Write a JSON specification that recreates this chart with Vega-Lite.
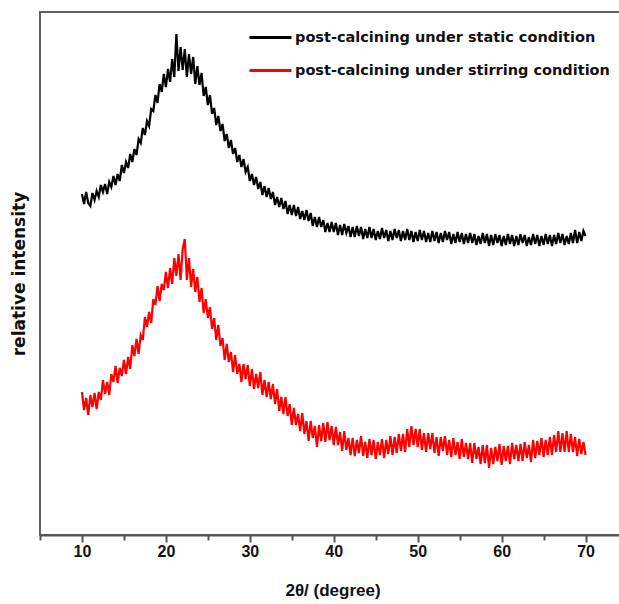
{
"$schema": "https://vega.github.io/schema/vega-lite/v6.json",
"width": 585, "height": 523,
"autosize": {"type": "none"},
"padding": {"left": 40, "top": 12, "right": 0, "bottom": 69},
"background": "white",
"config": {"view": {"stroke": "#606060", "strokeWidth": 2}},
"data": {"values": [
{"x":10,"a":341,"b":143},{"x":10.25,"a":331,"b":125},{"x":10.5,"a":343,"b":137},{"x":10.75,"a":332,"b":120},
{"x":11,"a":329,"b":140},{"x":11.25,"a":342,"b":128},{"x":11.5,"a":335,"b":142},{"x":11.75,"a":344,"b":126},
{"x":12,"a":338,"b":143},{"x":12.25,"a":350,"b":135},{"x":12.5,"a":343,"b":155},{"x":12.75,"a":351,"b":141},
{"x":13,"a":341,"b":153},{"x":13.25,"a":353,"b":140},{"x":13.5,"a":348,"b":161},{"x":13.75,"a":359,"b":153},
{"x":14,"a":350,"b":169},{"x":14.25,"a":361,"b":152},{"x":14.5,"a":354,"b":167},{"x":14.75,"a":370,"b":159},
{"x":15,"a":362,"b":175},{"x":15.25,"a":373,"b":161},{"x":15.5,"a":367,"b":178},{"x":15.75,"a":381,"b":166},
{"x":16,"a":373,"b":190},{"x":16.25,"a":386,"b":179},{"x":16.5,"a":380,"b":196},{"x":16.75,"a":396,"b":181},
{"x":17,"a":392,"b":200},{"x":17.25,"a":407,"b":195},{"x":17.5,"a":400,"b":218},{"x":17.75,"a":414,"b":208},
{"x":18,"a":409,"b":223},{"x":18.25,"a":426,"b":212},{"x":18.5,"a":424,"b":236},{"x":18.75,"a":440,"b":230},
{"x":19,"a":432,"b":249},{"x":19.25,"a":451,"b":234},{"x":19.5,"a":443,"b":251},{"x":19.75,"a":461,"b":245},
{"x":20,"a":448,"b":263},{"x":20.25,"a":466,"b":247},{"x":20.5,"a":453,"b":267},{"x":20.75,"a":476,"b":251},
{"x":21,"a":458,"b":277},{"x":21.25,"a":501,"b":259},{"x":21.5,"a":464,"b":281},{"x":21.75,"a":488,"b":255},
{"x":22,"a":465,"b":286},{"x":22.25,"a":486,"b":296},{"x":22.5,"a":458,"b":255},{"x":22.75,"a":481,"b":277},
{"x":23,"a":461,"b":248},{"x":23.25,"a":478,"b":266},{"x":23.5,"a":451,"b":243},{"x":23.75,"a":469,"b":258},
{"x":24,"a":450,"b":233},{"x":24.25,"a":462,"b":247},{"x":24.5,"a":439,"b":222},{"x":24.75,"a":448,"b":236},
{"x":25,"a":430,"b":217},{"x":25.25,"a":440,"b":228},{"x":25.5,"a":421,"b":206},{"x":25.75,"a":427,"b":217},
{"x":26,"a":410,"b":195},{"x":26.25,"a":419,"b":210},{"x":26.5,"a":404,"b":189},{"x":26.75,"a":411,"b":197},
{"x":27,"a":394,"b":175},{"x":27.25,"a":401,"b":191},{"x":27.5,"a":387,"b":173},{"x":27.75,"a":395,"b":183},
{"x":28,"a":381,"b":163},{"x":28.25,"a":387,"b":180},{"x":28.5,"a":373,"b":161},{"x":28.75,"a":380,"b":171},
{"x":29,"a":368,"b":153},{"x":29.25,"a":376,"b":171},{"x":29.5,"a":363,"b":156},{"x":29.75,"a":368,"b":170},
{"x":30,"a":354,"b":149},{"x":30.25,"a":361,"b":166},{"x":30.5,"a":350,"b":146},{"x":30.75,"a":358,"b":161},
{"x":31,"a":346,"b":147},{"x":31.25,"a":353,"b":163},{"x":31.5,"a":340,"b":140},{"x":31.75,"a":349,"b":155},
{"x":32,"a":338,"b":138},{"x":32.25,"a":347,"b":153},{"x":32.5,"a":336,"b":136},{"x":32.75,"a":343,"b":151},
{"x":33,"a":330,"b":131},{"x":33.25,"a":338,"b":146},{"x":33.5,"a":328,"b":124},{"x":33.75,"a":337,"b":138},
{"x":34,"a":326,"b":121},{"x":34.25,"a":334,"b":138},{"x":34.5,"a":321,"b":119},{"x":34.75,"a":330,"b":131},
{"x":35,"a":320,"b":110},{"x":35.25,"a":330,"b":127},{"x":35.5,"a":319,"b":110},{"x":35.75,"a":328,"b":121},
{"x":36,"a":316,"b":104},{"x":36.25,"a":324,"b":122},{"x":36.5,"a":315,"b":101},{"x":36.75,"a":325,"b":114},
{"x":37,"a":314,"b":94},{"x":37.25,"a":322,"b":114},{"x":37.5,"a":309,"b":97},{"x":37.75,"a":318,"b":109},
{"x":38,"a":308,"b":88},{"x":38.25,"a":318,"b":110},{"x":38.5,"a":308,"b":94},{"x":38.75,"a":315,"b":112},
{"x":39,"a":303,"b":93},{"x":39.25,"a":312,"b":113},{"x":39.5,"a":303,"b":95},{"x":39.75,"a":313,"b":109},
{"x":40,"a":303,"b":90},{"x":40.25,"a":312,"b":108},{"x":40.5,"a":300,"b":90},{"x":40.75,"a":310,"b":103},
{"x":41,"a":300,"b":84},{"x":41.25,"a":311,"b":104},{"x":41.5,"a":302,"b":85},{"x":41.75,"a":309,"b":97},
{"x":42,"a":298,"b":80},{"x":42.25,"a":308,"b":97},{"x":42.5,"a":298,"b":79},{"x":42.75,"a":309,"b":95},
{"x":43,"a":299,"b":82},{"x":43.25,"a":308,"b":99},{"x":43.5,"a":296,"b":79},{"x":43.75,"a":306,"b":93},
{"x":44,"a":297,"b":77},{"x":44.25,"a":308,"b":96},{"x":44.5,"a":297,"b":80},{"x":44.75,"a":306,"b":95},
{"x":45,"a":295,"b":76},{"x":45.25,"a":304,"b":93},{"x":45.5,"a":296,"b":80},{"x":45.75,"a":307,"b":96},
{"x":46,"a":297,"b":77},{"x":46.25,"a":305,"b":95},{"x":46.5,"a":294,"b":81},{"x":46.75,"a":304,"b":99},
{"x":47,"a":295,"b":80},{"x":47.25,"a":306,"b":98},{"x":47.5,"a":297,"b":82},{"x":47.75,"a":305,"b":101},
{"x":48,"a":294,"b":84},{"x":48.25,"a":304,"b":101},{"x":48.5,"a":295,"b":83},{"x":48.75,"a":306,"b":106},
{"x":49,"a":295,"b":88},{"x":49.25,"a":304,"b":109},{"x":49.5,"a":293,"b":90},{"x":49.75,"a":303,"b":106},
{"x":50,"a":294,"b":88},{"x":50.25,"a":305,"b":106},{"x":50.5,"a":295,"b":85},{"x":50.75,"a":304,"b":102},
{"x":51,"a":293,"b":83},{"x":51.25,"a":302,"b":102},{"x":51.5,"a":293,"b":86},{"x":51.75,"a":304,"b":102},
{"x":52,"a":294,"b":82},{"x":52.25,"a":303,"b":98},{"x":52.5,"a":292,"b":79},{"x":52.75,"a":302,"b":98},
{"x":53,"a":293,"b":84},{"x":53.25,"a":304,"b":99},{"x":53.5,"a":295,"b":80},{"x":53.75,"a":303,"b":95},
{"x":54,"a":291,"b":78},{"x":54.25,"a":301,"b":97},{"x":54.5,"a":292,"b":80},{"x":54.75,"a":303,"b":93},
{"x":55,"a":293,"b":76},{"x":55.25,"a":302,"b":96},{"x":55.5,"a":291,"b":78},{"x":55.75,"a":301,"b":92},
{"x":56,"a":292,"b":76},{"x":56.25,"a":302,"b":92},{"x":56.5,"a":292,"b":72},{"x":56.75,"a":301,"b":92},
{"x":57,"a":290,"b":76},{"x":57.25,"a":299,"b":88},{"x":57.5,"a":291,"b":71},{"x":57.75,"a":302,"b":90},
{"x":58,"a":292,"b":72},{"x":58.25,"a":301,"b":90},{"x":58.5,"a":289,"b":67},{"x":58.75,"a":300,"b":87},
{"x":59,"a":290,"b":71},{"x":59.25,"a":301,"b":88},{"x":59.5,"a":292,"b":74},{"x":59.75,"a":300,"b":91},
{"x":60,"a":289,"b":70},{"x":60.25,"a":299,"b":89},{"x":60.5,"a":290,"b":74},{"x":60.75,"a":301,"b":89},
{"x":61,"a":291,"b":71},{"x":61.25,"a":300,"b":92},{"x":61.5,"a":289,"b":76},{"x":61.75,"a":299,"b":90},
{"x":62,"a":290,"b":74},{"x":62.25,"a":301,"b":91},{"x":62.5,"a":292,"b":74},{"x":62.75,"a":300,"b":93},
{"x":63,"a":289,"b":77},{"x":63.25,"a":298,"b":90},{"x":63.5,"a":290,"b":73},{"x":63.75,"a":301,"b":95},
{"x":64,"a":291,"b":77},{"x":64.25,"a":300,"b":94},{"x":64.5,"a":289,"b":80},{"x":64.75,"a":299,"b":97},
{"x":65,"a":290,"b":78},{"x":65.25,"a":301,"b":95},{"x":65.5,"a":291,"b":80},{"x":65.75,"a":300,"b":98},
{"x":66,"a":289,"b":80},{"x":66.25,"a":300,"b":100},{"x":66.5,"a":291,"b":83},{"x":66.75,"a":302,"b":104},
{"x":67,"a":292,"b":83},{"x":67.25,"a":301,"b":102},{"x":67.5,"a":290,"b":83},{"x":67.75,"a":299,"b":104},
{"x":68,"a":291,"b":83},{"x":68.25,"a":302,"b":101},{"x":68.5,"a":292,"b":83},{"x":68.75,"a":305,"b":98},
{"x":69,"a":292,"b":79},{"x":69.25,"a":303,"b":96},{"x":69.5,"a":294,"b":81},{"x":69.75,"a":304,"b":93},
{"x":70,"a":299,"b":80}
]},
"transform": [{"fold": ["a", "b"], "as": ["series", "v"]}],
"mark": {"type": "line", "strokeWidth": 2.2, "clip": true},
"encoding": {
  "x": {"field": "x", "type": "quantitative",
    "scale": {"domain": [5, 74.7], "nice": false, "zero": false},
    "axis": {"values": [5,10,15,20,25,30,35,40,45,50,55,60,65,70],
      "title": "2θ/ (degree)",
      "labelExpr": "datum.value % 10 === 0 ? datum.label : ''",
      "tickSize": {"condition": {"test": "datum.value % 10 === 0", "value": 7}, "value": 5},
      "tickColor": "#555", "tickWidth": 2, "domainColor": "#555", "domainWidth": 2,
      "labelFont": "Liberation Sans Narrow, Liberation Sans", "labelFontWeight": "bold", "labelFontSize": 16,
      "labelColor": "#111", "labelPadding": 1, "labelOverlap": false, "labelFlush": false,
      "titleFont": "Liberation Sans Narrow, Liberation Sans", "titleFontSize": 17, "titleFontWeight": "bold",
      "titleColor": "#111", "titlePadding": 23, "grid": false}},
  "y": {"field": "v", "type": "quantitative",
    "scale": {"domain": [0, 523], "nice": false, "zero": false},
    "axis": {"title": "relative intensity", "labels": false, "ticks": false, "domain": false, "grid": false,
      "titleFont": "DejaVu Sans", "titleFontSize": 17, "titleFontWeight": "bold", "titleColor": "#111",
      "titlePadding": 12}},
  "color": {"field": "series", "type": "nominal",
    "scale": {"domain": ["a", "b"], "range": ["#000000", "#ff0000"]},
    "legend": {"orient": "none", "legendX": 208, "legendY": 3, "title": null, "padding": 0,
      "symbolType": "stroke", "symbolSize": 1764, "symbolStrokeWidth": 3, "rowPadding": 4,
      "labelOffset": 2, "labelFont": "DejaVu Sans", "labelFontWeight": "bold", "labelFontSize": 14.5,
      "labelColor": "#111", "labelLimit": 0,
      "labelExpr": "datum.label == 'a' ? 'post-calcining under static condition' : 'post-calcining under stirring condition'"}}
}
}
